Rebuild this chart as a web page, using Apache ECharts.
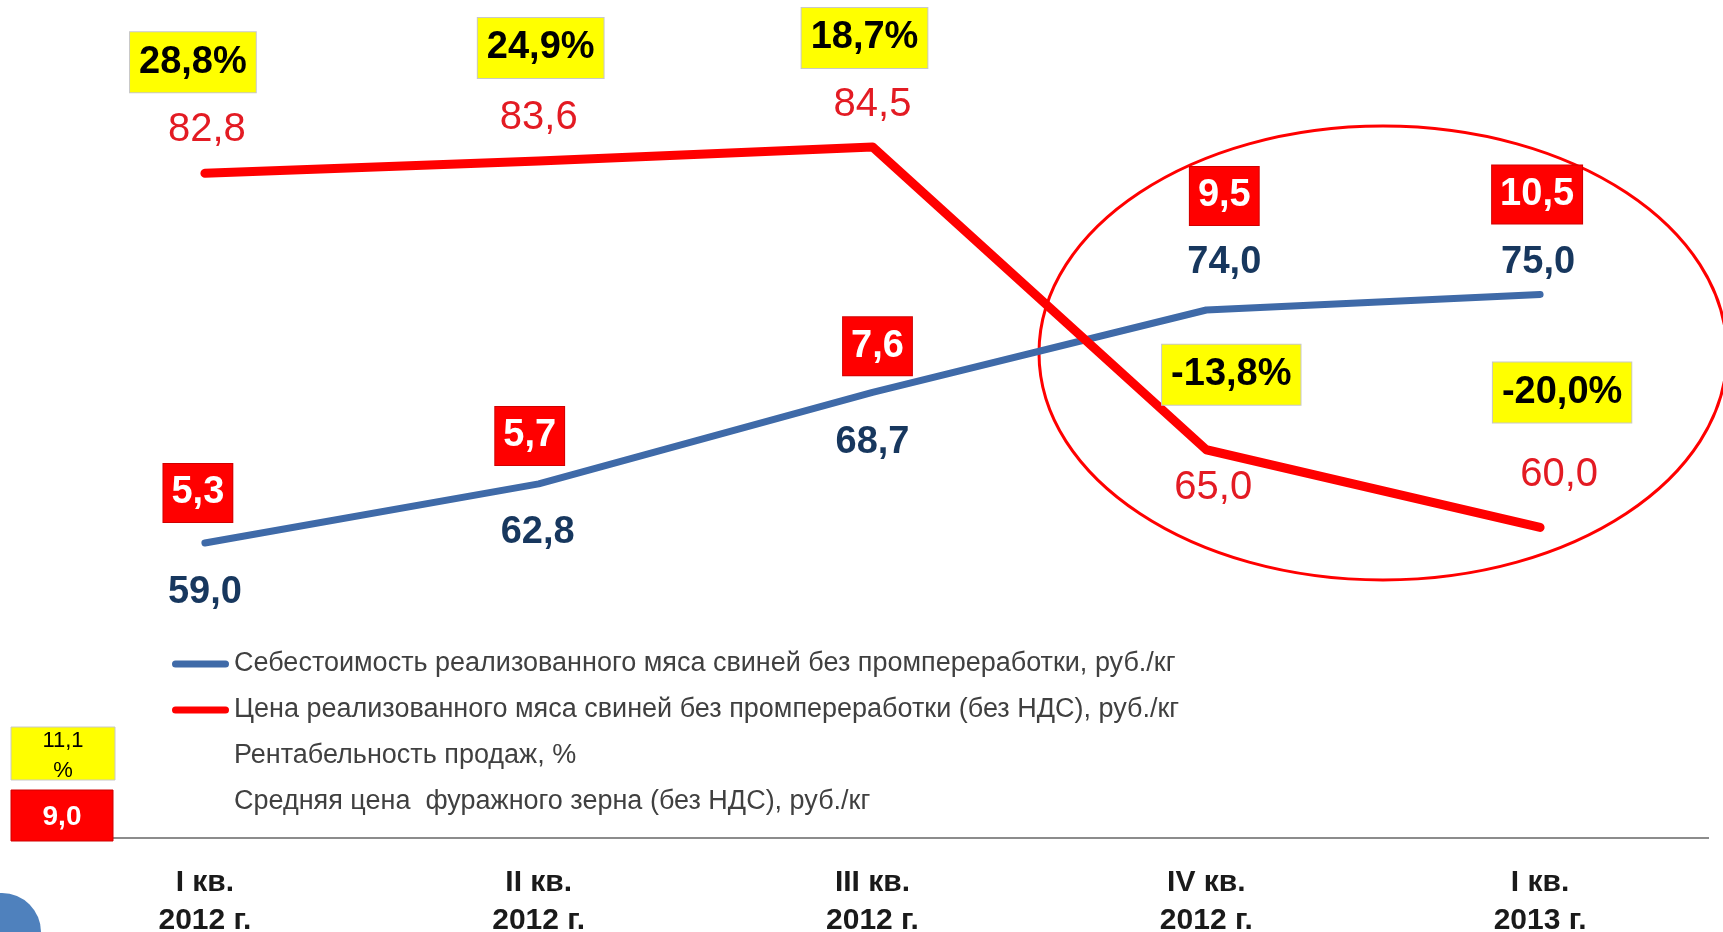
<!DOCTYPE html>
<html>
<head>
<meta charset="utf-8">
<title>Себестоимость и цена мяса свиней</title>
<script src="https://cdn.jsdelivr.net/npm/echarts@6/dist/echarts.min.js"></script>
<style>
  html, body { margin: 0; padding: 0; background: #fff; }
  #chart { width: 1723px; height: 932px; }
</style>
</head>
<body>
<div id="chart"></div>
<script>
// данные
var quarters = ['I кв.\n2012 г.', 'II кв.\n2012 г.', 'III кв.\n2012 г.', 'IV кв.\n2012 г.', 'I кв.\n2013 г.'];
var costValues = [59.0, 62.8, 68.7, 74.0, 75.0];
var priceValues = [82.8, 83.6, 84.5, 65.0, 60.0];
var profitValues = [28.8, 24.9, 18.7, -13.8, -20.0];
var grainValues = [5.3, 5.7, 7.6, 9.5, 10.5];

var names = [
  'Себестоимость реализованного мяса свиней без промпереработки, руб./кг',
  'Цена реализованного мяса свиней без промпереработки (без НДС), руб./кг',
  'Рентабельность продаж, %',
  'Средняя цена  фуражного зерна (без НДС), руб./кг'
];

// сдвиг подписей от точки, px
var costLabelOffset = [[0, 50], [-1, 49], [0, 50], [18, -47], [-2, -32]];
var priceLabelOffset = [[2, -43], [0, -43], [0, -42], [7, 38], [19, -52]];
var profitBoxOffset = [[-12, -111], [2, -113], [-8, -109], [25, -75], [22, -135]];
var grainBoxOffset = [[-7, -50], [-9, -48], [5, -46], [18, -114], [-3, -100]];

var FONT = '"Liberation Sans", Arial, sans-serif';
var capsule = 'path://M3.5,0L53.5,0A3.5,3.5,0,0,1,53.5,7L3.5,7A3.5,3.5,0,0,1,3.5,0Z';

function fmt(v) {
  return v.toFixed(1).replace('.', ',');
}

var chart = echarts.init(document.getElementById('chart'));

var option = {
  animation: false,
  backgroundColor: '#fff',
  grid: { left: 38, right: 16, top: 61.5, bottom: 94, containLabel: false, outerBoundsMode: 'none' },
  xAxis: {
    type: 'category',
    data: quarters,
    boundaryGap: true,
    axisLine: { show: false },
    axisTick: { show: false },
    axisLabel: {
      margin: 26,
      fontFamily: FONT,
      fontSize: 30,
      fontWeight: 'bold',
      lineHeight: 38,
      color: '#1a1a1a'
    }
  },
  yAxis: {
    type: 'value',
    min: 40,
    max: 90,
    show: false,
    splitLine: { show: false }
  },
  legend: {
    orient: 'vertical',
    left: 167,
    top: 644,
    itemGap: 16,
    itemWidth: 57,
    itemHeight: 7,
    icon: capsule,
    selectedMode: false,
    textStyle: { fontFamily: FONT, fontSize: 27, color: '#404040', lineHeight: 30 },
    data: [
      { name: names[0] },
      { name: names[1] },
      { name: names[2], itemStyle: { opacity: 0 } },
      { name: names[3], itemStyle: { opacity: 0 } }
    ]
  },
  series: [
    {
      name: names[0],
      type: 'line',
      symbol: 'circle',
      symbolSize: 1,
      itemStyle: { color: '#3F6AA8' },
      lineStyle: { color: '#3F6AA8', width: 7, cap: 'round', join: 'round' },
      label: {
        show: true,
        position: 'inside',
        fontFamily: FONT,
        fontSize: 38,
        fontWeight: 'bold',
        color: '#17375E',
        formatter: function (p) { return fmt(p.value); }
      },
      data: costValues.map(function (v, i) {
        return { value: v, label: { offset: costLabelOffset[i] } };
      }),
      z: 3
    },
    {
      name: names[1],
      type: 'line',
      symbol: 'circle',
      symbolSize: 1,
      itemStyle: { color: '#FF0000' },
      lineStyle: { color: '#FF0000', width: 9, cap: 'round', join: 'round' },
      label: {
        show: true,
        position: 'inside',
        fontFamily: FONT,
        fontSize: 40,
        color: '#E31B23',
        formatter: function (p) { return fmt(p.value); }
      },
      data: priceValues.map(function (v, i) {
        return { value: v, label: { offset: priceLabelOffset[i] } };
      }),
      z: 4
    },
    {
      // рентабельность - жёлтые плашки над линией цены
      name: names[2],
      type: 'scatter',
      symbolSize: 1,
      itemStyle: { color: 'rgba(0,0,0,0)', opacity: 1 },
      label: {
        show: true,
        position: 'inside',
        fontFamily: FONT,
        fontSize: 38,
        fontWeight: 'bold',
        color: '#000',
        backgroundColor: '#FFFF00',
        borderColor: '#C8C8C8',
        borderWidth: 1,
        lineHeight: 46,
        padding: [10, 9, 4, 9],
        formatter: function (p) { return fmt(p.value[2]) + '%'; }
      },
      data: priceValues.map(function (v, i) {
        return { value: [i, v, profitValues[i]], label: { offset: profitBoxOffset[i] } };
      }),
      z: 5
    },
    {
      // цена зерна - красные плашки над линией себестоимости
      name: names[3],
      type: 'scatter',
      symbolSize: 1,
      itemStyle: { color: 'rgba(0,0,0,0)', opacity: 1 },
      label: {
        show: true,
        position: 'inside',
        fontFamily: FONT,
        fontSize: 38,
        fontWeight: 'bold',
        color: '#fff',
        backgroundColor: '#FF0000',
        borderColor: '#D00000',
        borderWidth: 1,
        lineHeight: 44,
        padding: [10, 8, 4, 8],
        formatter: function (p) { return fmt(p.value[2]); }
      },
      data: costValues.map(function (v, i) {
        return { value: [i, v, grainValues[i]], label: { offset: grainBoxOffset[i] } };
      }),
      z: 5
    }
  ],
  graphic: [
    {
      type: 'line',
      shape: { x1: 113, y1: 838, x2: 1709, y2: 838 },
      style: { stroke: '#8C8C8C', lineWidth: 2 }
    },
    {
      type: 'ellipse',
      shape: { cx: 1383, cy: 353, rx: 344, ry: 227 },
      style: { fill: 'none', stroke: '#FF0000', lineWidth: 3 }
    },
    {
      type: 'rect',
      shape: { x: 11, y: 727, width: 104, height: 53 },
      style: { fill: '#FFFF00', stroke: '#C8C8C8', lineWidth: 1 }
    },
    {
      type: 'text',
      x: 63, y: 741,
      style: { text: '11,1', fontFamily: FONT, fontSize: 22, fill: '#000', align: 'center', verticalAlign: 'middle' }
    },
    {
      type: 'text',
      x: 63, y: 771,
      style: { text: '%', fontFamily: FONT, fontSize: 22, fill: '#000', align: 'center', verticalAlign: 'middle' }
    },
    {
      type: 'rect',
      shape: { x: 11, y: 790, width: 102, height: 51 },
      style: { fill: '#FF0000', stroke: '#D00000', lineWidth: 1 }
    },
    {
      type: 'text',
      x: 62, y: 817,
      style: { text: '9,0', fontFamily: FONT, fontSize: 28, fontWeight: 'bold', fill: '#fff', align: 'center', verticalAlign: 'middle' }
    },
    {
      type: 'circle',
      shape: { cx: 2, cy: 932, r: 39 },
      style: { fill: '#4F81BD' }
    }
  ]
};

chart.setOption(option);
</script>
</body>
</html>
